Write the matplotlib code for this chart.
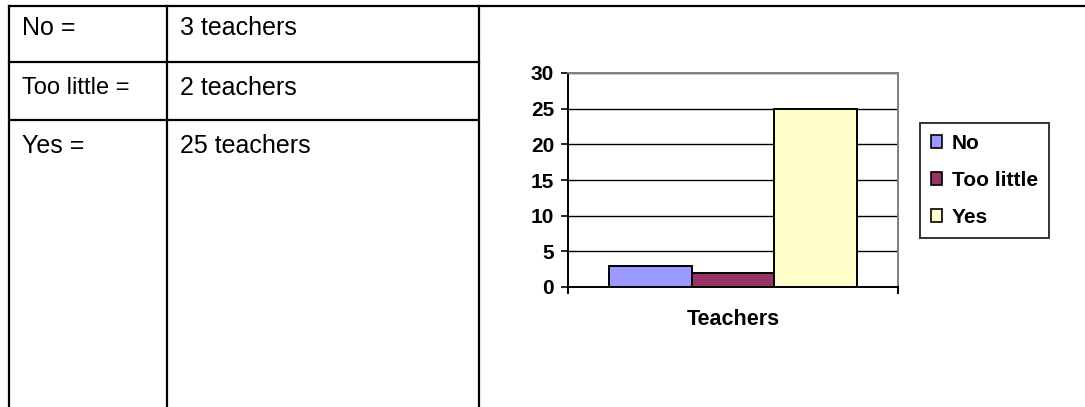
import matplotlib
matplotlib.use("Agg")
import matplotlib.pyplot as plt
from matplotlib.lines import Line2D
import numpy as np

plt.rcParams['font.family'] = ['Liberation Sans', 'DejaVu Sans']

# Data
categories = ["Teachers"]
series_names = ["No", "Too little", "Yes"]
series_values = [3, 2, 25]
series_colors = ["#9999FF", "#993366", "#FFFFCC"]
table_left = ["No =", "Too little =", "Yes ="]
table_right = ["3 teachers", "2 teachers", "25 teachers"]
yticks = [0, 5, 10, 15, 20, 25, 30]

W, H = 1085, 407
fig = plt.figure(figsize=(W / 100, H / 100), dpi=100)

def fx(px):
    return px / W

def fy(py):
    return 1 - py / H

# Table lines
lw_tab = 1.6
def hline(y, x0, x1):
    fig.add_artist(Line2D([fx(x0), fx(x1)], [fy(y), fy(y)], color="black", lw=lw_tab,
                          transform=fig.transFigure))

def vline(x, y0, y1):
    fig.add_artist(Line2D([fx(x), fx(x)], [fy(y0), fy(y1)], color="black", lw=lw_tab,
                          transform=fig.transFigure))

hline(6, 9, W)
hline(62, 9, 479)
hline(120, 9, 479)
vline(9, 6, H)
vline(167, 6, H)
vline(479, 6, H)

row_y = [28, 88, 146]
left_sizes = [18, 17, 18]
for lbl, val, y, fs in zip(table_left, table_right, row_y, left_sizes):
    fig.text(fx(22), fy(y), lbl, fontsize=fs, va="center", ha="left")
    fig.text(fx(180), fy(y), val, fontsize=18, va="center", ha="left")

# Chart
ax = fig.add_axes([fx(568), fy(287), fx(898) - fx(568), fy(73) - fy(287)])
n = len(series_names)
width = 0.25
x = np.arange(len(categories))
for i, (name, val, col) in enumerate(zip(series_names, series_values, series_colors)):
    ax.bar(x + (i - (n - 1) / 2) * width, [val], width=width, color=col,
           edgecolor="black", linewidth=1.4, label=name, zorder=3)

ax.set_xlim(-0.5, 0.5)
ax.set_ylim(0, 30)
ax.set_yticks(yticks)
ax.set_yticklabels([str(t) for t in yticks], fontsize=15, fontweight="bold")
ax.yaxis.grid(True, color="black", linewidth=1.0, zorder=0)
ax.set_axisbelow(True)
ax.tick_params(axis="y", direction="out", length=5, width=1.2, pad=5, color="black")

ax.set_xticks(x)
ax.set_xticklabels(categories, fontsize=15.5, fontweight="bold")
ax.tick_params(axis="x", which="major", length=0, pad=15.5)
ax.set_xticks([-0.5, 0.5], minor=True)
ax.tick_params(axis="x", which="minor", direction="out", length=5, width=1.4, color="black")

for s in ["top", "right"]:
    ax.spines[s].set_color("#808080")
    ax.spines[s].set_linewidth(1.4)
for s in ["left", "bottom"]:
    ax.spines[s].set_color("black")
    ax.spines[s].set_linewidth(1.4)

leg = fig.legend(loc="upper left", bbox_to_anchor=(fx(920), fy(123)),
                 borderaxespad=0, fancybox=False, frameon=True,
                 prop={"size": 15, "weight": "bold"},
                 handlelength=0.55, handleheight=0.55, handletextpad=0.45,
                 labelspacing=0.86, borderpad=0.52)
leg.get_frame().set_edgecolor("black")
leg.get_frame().set_linewidth(1.4)
for h in leg.legend_handles:
    h.set_linewidth(1.2)

fig.savefig("out.png", dpi=100)
